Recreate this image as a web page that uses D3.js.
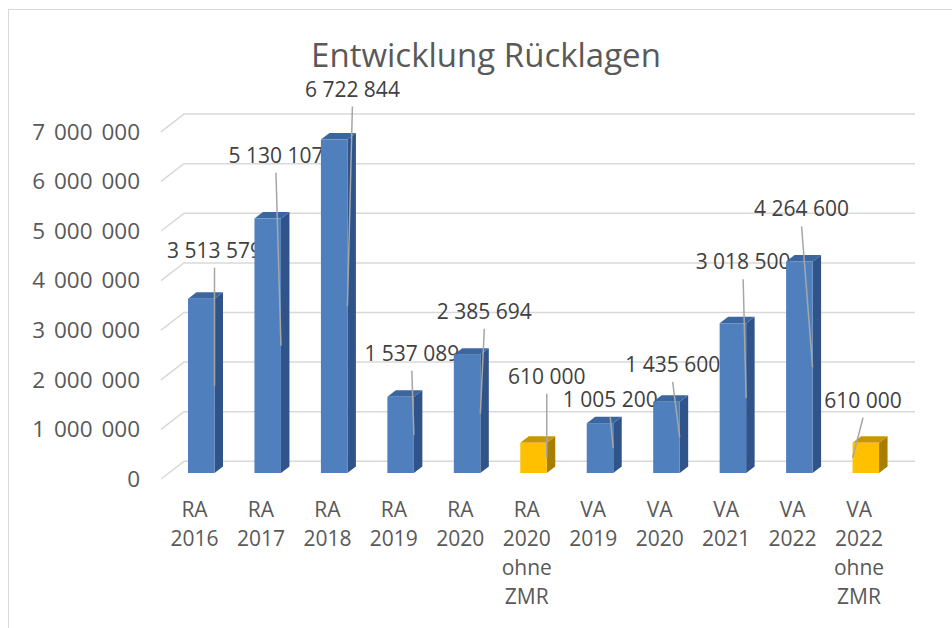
<!DOCTYPE html>
<html>
<head>
<meta charset="utf-8">
<script src="https://cdn.jsdelivr.net/npm/d3@7"></script>
<style>
  body { margin: 0; background: #fff; }
  svg { display: block; font-family: "Open Sans", sans-serif; }
</style>
</head>
<body>
<div id="chart"></div>
<script>
// data
const categories = ["RA 2016", "RA 2017", "RA 2018", "RA 2019", "RA 2020", "RA 2020 ohne ZMR",
                    "VA 2019", "VA 2020", "VA 2021", "VA 2022", "VA 2022 ohne ZMR"];
const values = [3513579, 5130107, 6722844, 1537089, 2385694, 610000,
                1005200, 1435600, 3018500, 4264600, 610000];
const yTicks = [0, 1000000, 2000000, 3000000, 4000000, 5000000, 6000000, 7000000];
const title = "Entwicklung Rücklagen";

// label placement (moved by hand in the original), relative to bar top / right edge
const labelOffsets = [[0, -41], [-5, -56], [5, -43], [-2, -36], [4, -36], [0, -59],
                      [-3, -16], [-7, -30], [-3, -54], [-11, -45], [-16, -35]];
const leaderLeft = [false, false, false, false, false, false, false, false, false, false, true];

const W = 952, H = 628;
const textColor = "#595959";
const grid = "#d9d9d9";
const colors = {
  blue: { front: "#4f80bd", side: "#30538a", top: "#3c669f" },
  gold: { front: "#ffc000", side: "#a87e00", top: "#c89600" }
};

// 3D offsets
const wallDx = 23, wallDy = -17.7;   // front axis -> back wall
const depthDx = 8.5, depthDy = -6.5; // bar depth

const svg = d3.select("#chart").append("svg").attr("width", W).attr("height", H);

// chart frame
svg.append("rect")
  .attr("x", 8.5).attr("y", 9.5).attr("width", W + 10).attr("height", H + 10)
  .attr("fill", "none").attr("stroke", grid);

const x = d3.scaleBand().domain(categories).range([184, 915]);
const y = d3.scaleLinear().domain([0, 7000000]).range([473, 473 - 347.2]);
const fmt = v => d3.format(",")(v).replace(/,/g, " ");

// gridlines (side wall + back wall)
const gridG = svg.append("g");
yTicks.forEach(t => {
  const yf = y(t) + 6, yb = yf + wallDy;
  gridG.append("path")
    .attr("d", `M${184 - wallDx},${yf}L184,${yb}L915,${yb}`)
    .attr("fill", "none").attr("stroke", grid).attr("stroke-width", 1.5);
});

// y axis labels
const yAxisScale = y.copy().range(y.range().map(r => r + 6));
const yAxis = svg.append("g")
  .attr("transform", "translate(140,0)")
  .call(d3.axisLeft(yAxisScale).tickValues(yTicks).tickSize(0).tickPadding(0).tickFormat(fmt));
yAxis.select(".domain").remove();
yAxis.selectAll("text")
  .attr("fill", textColor)
  .style("font-size", "22.5px")
  .style("font-family", "Open Sans")
  .style("word-spacing", "3px");

// bars
const bw = 26.5;
const bars = svg.append("g").selectAll("g")
  .data(categories.map((c, i) => ({ c, v: values[i], i })))
  .join("g");

bars.each(function(d) {
  const g = d3.select(this);
  const col = d.c.includes("ohne") ? colors.gold : colors.blue;
  const x0 = x(d.c) + 4, x1 = x0 + bw;
  const y0 = y(0), y1 = y(d.v);
  g.append("path")
    .attr("d", `M${x1},${y1}L${x1 + depthDx},${y1 + depthDy}L${x1 + depthDx},${y0 + depthDy}L${x1},${y0}Z`)
    .attr("fill", col.side);
  g.append("path")
    .attr("d", `M${x0},${y1}L${x0 + depthDx},${y1 + depthDy}L${x1 + depthDx},${y1 + depthDy}L${x1},${y1}Z`)
    .attr("fill", col.top);
  g.append("rect")
    .attr("x", x0).attr("y", y1).attr("width", bw).attr("height", y0 - y1)
    .attr("fill", col.front);
});

// data labels with leader lines
bars.each(function(d) {
  const g = d3.select(this);
  const x0 = x(d.c) + 4, x1 = x0 + bw;
  const top = y(d.v), mid = (y(0) + top) / 2;
  const [ox, oy] = labelOffsets[d.i];
  const lx = x1 + ox, ly = top + oy;
  g.append("line")
    .attr("x1", lx).attr("y1", ly + 10)
    .attr("x2", leaderLeft[d.i] ? x0 : x1).attr("y2", mid)
    .attr("stroke", "#a6a6a6").attr("stroke-width", 1.5);
  g.append("text")
    .attr("x", lx).attr("y", ly)
    .attr("text-anchor", "middle")
    .attr("fill", "#404040")
    .style("font-size", "21px")
    .text(fmt(d.v));
});

// category labels
svg.append("g").selectAll("text")
  .data(categories)
  .join("text")
  .attr("text-anchor", "middle")
  .attr("fill", textColor)
  .style("font-size", "21px")
  .each(function(c) {
    const t = d3.select(this);
    c.split(" ").forEach((w, k) => {
      t.append("tspan").attr("x", x(c) + 4 + 6.5).attr("y", 517 + k * 29).text(w);
    });
  });

// title
svg.append("text")
  .attr("x", 486).attr("y", 67)
  .attr("text-anchor", "middle")
  .attr("fill", textColor)
  .style("font-size", "33px")
  .text(title);
</script>
</body>
</html>
